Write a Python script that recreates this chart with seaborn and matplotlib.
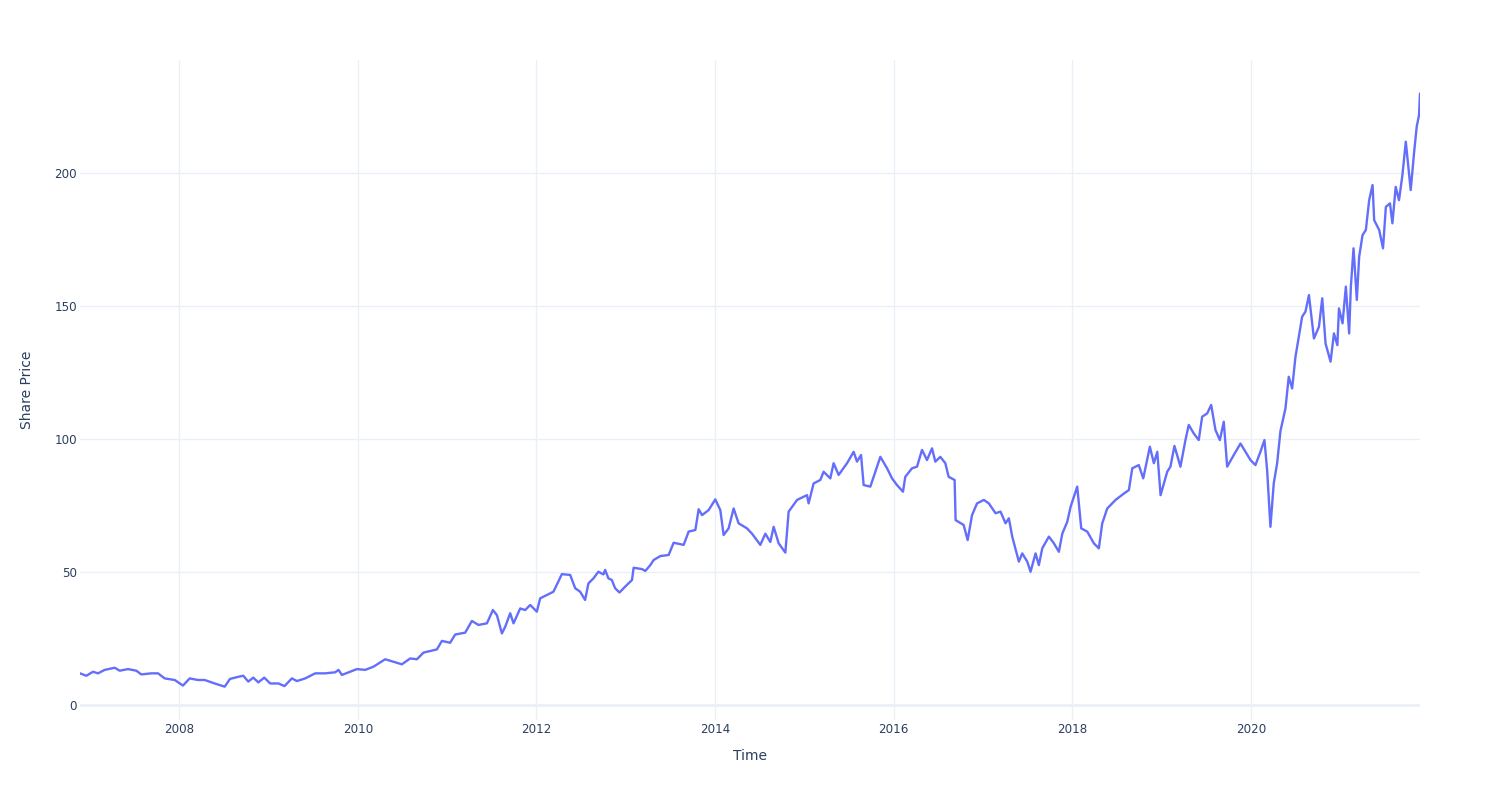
import matplotlib
matplotlib.use("Agg")
import matplotlib.pyplot as plt
import matplotlib.dates as mdates
import seaborn as sns
import pandas as pd

# decimal-year positions and share prices
years = [
    2006.891, 2006.962, 2007.037, 2007.093, 2007.168, 2007.280, 2007.336, 2007.429, 2007.522,
    2007.578, 2007.690, 2007.765, 2007.840, 2007.952, 2008.045, 2008.120, 2008.213, 2008.288,
    2008.400, 2008.512, 2008.571, 2008.664, 2008.720, 2008.776, 2008.832, 2008.888, 2008.955,
    2009.019, 2009.112, 2009.179, 2009.262, 2009.318, 2009.411, 2009.523, 2009.635, 2009.747,
    2009.784, 2009.822, 2009.915, 2009.990, 2010.083, 2010.176,
    2010.307, 2010.494, 2010.587, 2010.662,
    2010.736, 2010.886, 2010.942, 2011.035, 2011.091, 2011.203, 2011.278, 2011.352, 2011.446,
    2011.513, 2011.558, 2011.614, 2011.651, 2011.707, 2011.744, 2011.819, 2011.875, 2011.931,
    2012.006, 2012.043, 2012.192, 2012.286, 2012.379, 2012.435, 2012.490, 2012.546, 2012.583,
    2012.639, 2012.695, 2012.751, 2012.770, 2012.807, 2012.845, 2012.882, 2012.931, 2012.994,
    2013.069, 2013.087, 2013.181, 2013.218, 2013.274, 2013.311, 2013.386, 2013.479,
    2013.535, 2013.647, 2013.703, 2013.778, 2013.815, 2013.853, 2013.927, 2014.002, 2014.058,
    2014.095, 2014.151, 2014.207, 2014.263, 2014.357, 2014.413, 2014.506, 2014.562, 2014.618,
    2014.655, 2014.711, 2014.786, 2014.823, 2014.917, 2015.029, 2015.047, 2015.103, 2015.178,
    2015.215, 2015.290, 2015.327, 2015.383, 2015.477, 2015.551, 2015.589, 2015.634, 2015.663,
    2015.738, 2015.850, 2015.925, 2015.981, 2016.037, 2016.104, 2016.130, 2016.205, 2016.261,
    2016.317, 2016.373, 2016.429, 2016.466, 2016.522, 2016.578, 2016.615, 2016.682, 2016.693,
    2016.783, 2016.828, 2016.877, 2016.933, 2017.007, 2017.063, 2017.138, 2017.194, 2017.250,
    2017.287, 2017.325, 2017.399, 2017.437, 2017.493, 2017.530, 2017.586, 2017.623, 2017.661,
    2017.735, 2017.791, 2017.847, 2017.885, 2017.941, 2017.978, 2018.053, 2018.098, 2018.165,
    2018.239, 2018.295, 2018.333, 2018.389, 2018.482, 2018.575, 2018.631, 2018.669, 2018.742,
    2018.792, 2018.866, 2018.911, 2018.949, 2018.986, 2019.061, 2019.097, 2019.142, 2019.209,
    2019.265, 2019.302, 2019.358, 2019.414, 2019.452, 2019.508, 2019.553, 2019.601, 2019.650,
    2019.694, 2019.732, 2019.806, 2019.881, 2019.937, 2019.993, 2020.049, 2020.105, 2020.150,
    2020.180, 2020.217, 2020.254, 2020.292, 2020.329, 2020.385, 2020.422, 2020.460, 2020.497,
    2020.553, 2020.572, 2020.609, 2020.648, 2020.704, 2020.760, 2020.797, 2020.834, 2020.890,
    2020.928, 2020.966, 2020.984, 2021.022, 2021.059, 2021.096, 2021.115, 2021.145, 2021.182,
    2021.208, 2021.246, 2021.283, 2021.320, 2021.358, 2021.376, 2021.432, 2021.475, 2021.507,
    2021.553, 2021.580, 2021.617, 2021.654, 2021.692, 2021.730, 2021.785, 2021.822, 2021.852,
    2021.878, 2021.889,
]
prices = [
    11.9, 11.0, 12.5, 11.9, 13.2, 14.0, 12.9, 13.5, 12.9,
    11.5, 11.9, 11.9, 10.0, 9.4, 7.3, 10.0, 9.4, 9.4,
    8.1, 6.9, 9.8, 10.6, 11.0, 8.8, 10.3, 8.5, 10.3,
    8.1, 8.1, 7.1, 10.0, 9.0, 10.0, 11.9, 11.9, 12.3,
    13.2, 11.3, 12.5, 13.5, 13.2, 14.4,
    17.2, 15.3, 17.5, 17.2,
    19.7, 20.9, 24.1, 23.4, 26.5, 27.2, 31.6, 30.1, 30.7,
    35.7, 33.8, 26.9, 29.4, 34.5, 30.7, 36.3, 35.7, 37.6,
    35.1, 40.1, 42.6, 49.2, 48.9, 43.9, 42.6, 39.5, 45.7,
    47.6, 50.1, 49.1, 50.8, 47.6, 47.0, 43.9, 42.3, 44.5,
    47.0, 51.6, 51.1, 50.4, 52.6, 54.5, 56.0, 56.4,
    61.0, 60.2, 65.2, 65.8, 73.6, 71.4, 73.3, 77.3, 73.3,
    63.9, 66.4, 73.9, 68.3, 66.4, 64.4, 60.2, 64.4, 61.3,
    67.0, 60.8, 57.3, 72.7, 77.1, 78.9, 75.8, 83.3, 84.6,
    87.7, 85.2, 90.9, 86.5, 90.9, 95.2, 91.5, 94.0, 82.7,
    82.1, 93.3, 89.0, 85.2, 82.7, 80.2, 85.8, 89.0, 89.6,
    95.9, 92.1, 96.5, 91.5, 93.3, 90.9, 85.8, 84.6, 69.5,
    67.7, 62.0, 71.4, 75.8, 77.1, 75.8, 72.1, 72.7, 68.3,
    70.2, 63.3, 53.9, 57.0, 53.9, 50.1, 57.0, 52.6, 58.9,
    63.3, 60.8, 57.6, 64.4, 68.9, 74.5, 82.1, 66.4, 65.2,
    60.8, 58.9, 68.3, 73.9, 77.1, 79.5, 80.8, 89.0, 90.2,
    85.2, 97.1, 90.9, 95.2, 78.9, 87.7, 89.6, 97.4, 89.6,
    99.6, 105.3, 102.1, 99.6, 108.4, 109.6, 112.8, 103.4, 99.6,
    106.5, 89.6, 94.0, 98.3, 95.2, 92.1, 90.2, 95.2, 99.6,
    88.3, 67.0, 83.3, 90.9, 103.0, 111.5, 123.4, 119.0, 130.9,
    142.2, 146.0, 147.9, 154.1, 137.8, 142.2, 152.9, 135.9, 129.1,
    139.7, 135.3, 149.1, 143.5, 157.3, 139.7, 157.3, 171.7, 152.3,
    168.5, 176.7, 178.6, 189.8, 195.5, 182.3, 178.6, 171.7, 187.3,
    188.6, 181.1, 194.8, 189.8, 199.2, 211.8, 193.6, 207.4, 217.4,
    221.8, 229.9,
]
x_tick_years = [2008, 2010, 2012, 2014, 2016, 2018, 2020]
y_ticks = [0, 50, 100, 150, 200]


def to_date(y):
    base = pd.Timestamp(year=int(y), month=1, day=1)
    return base + pd.Timedelta(days=(y - int(y)) * 365.25)


df = pd.DataFrame({"Time": [to_date(y) for y in years], "Share Price": prices})

sns.set_theme(style="white")
plt.rcParams["font.family"] = ["DejaVu Sans"]

text_col = "#2a3f5f"
grid_col = "#EBF0F8"

fig = plt.figure(figsize=(15, 8), dpi=100)
ax = fig.add_axes([80 / 1500, 80 / 800, 1340 / 1500, 660 / 800])

sns.lineplot(data=df, x="Time", y="Share Price", ax=ax, color="#636efa",
             linewidth=1.7, zorder=3)

ax.set_xlim(df["Time"].min(), df["Time"].max())
ax.set_ylim(-5.64, 242.5)

ax.set_xticks([pd.Timestamp(year=y, month=1, day=1) for y in x_tick_years])
ax.xaxis.set_major_formatter(mdates.DateFormatter("%Y"))
ax.set_yticks(y_ticks)
ax.set_yticklabels([str(v) for v in y_ticks])

ax.grid(True, color=grid_col, linewidth=1)
ax.axhline(0, color=grid_col, linewidth=2, zorder=2)
for s in ax.spines.values():
    s.set_visible(False)

ax.tick_params(axis="both", length=0, labelsize=8.6, labelcolor=text_col)
ax.tick_params(axis="x", pad=2.5)
ax.tick_params(axis="y", pad=2)
ax.set_xlabel("Time", fontsize=10, color=text_col, labelpad=9)
ax.set_ylabel("Share Price", fontsize=10, color=text_col, labelpad=15)

fig.savefig("out.png", dpi=100, facecolor="white")
